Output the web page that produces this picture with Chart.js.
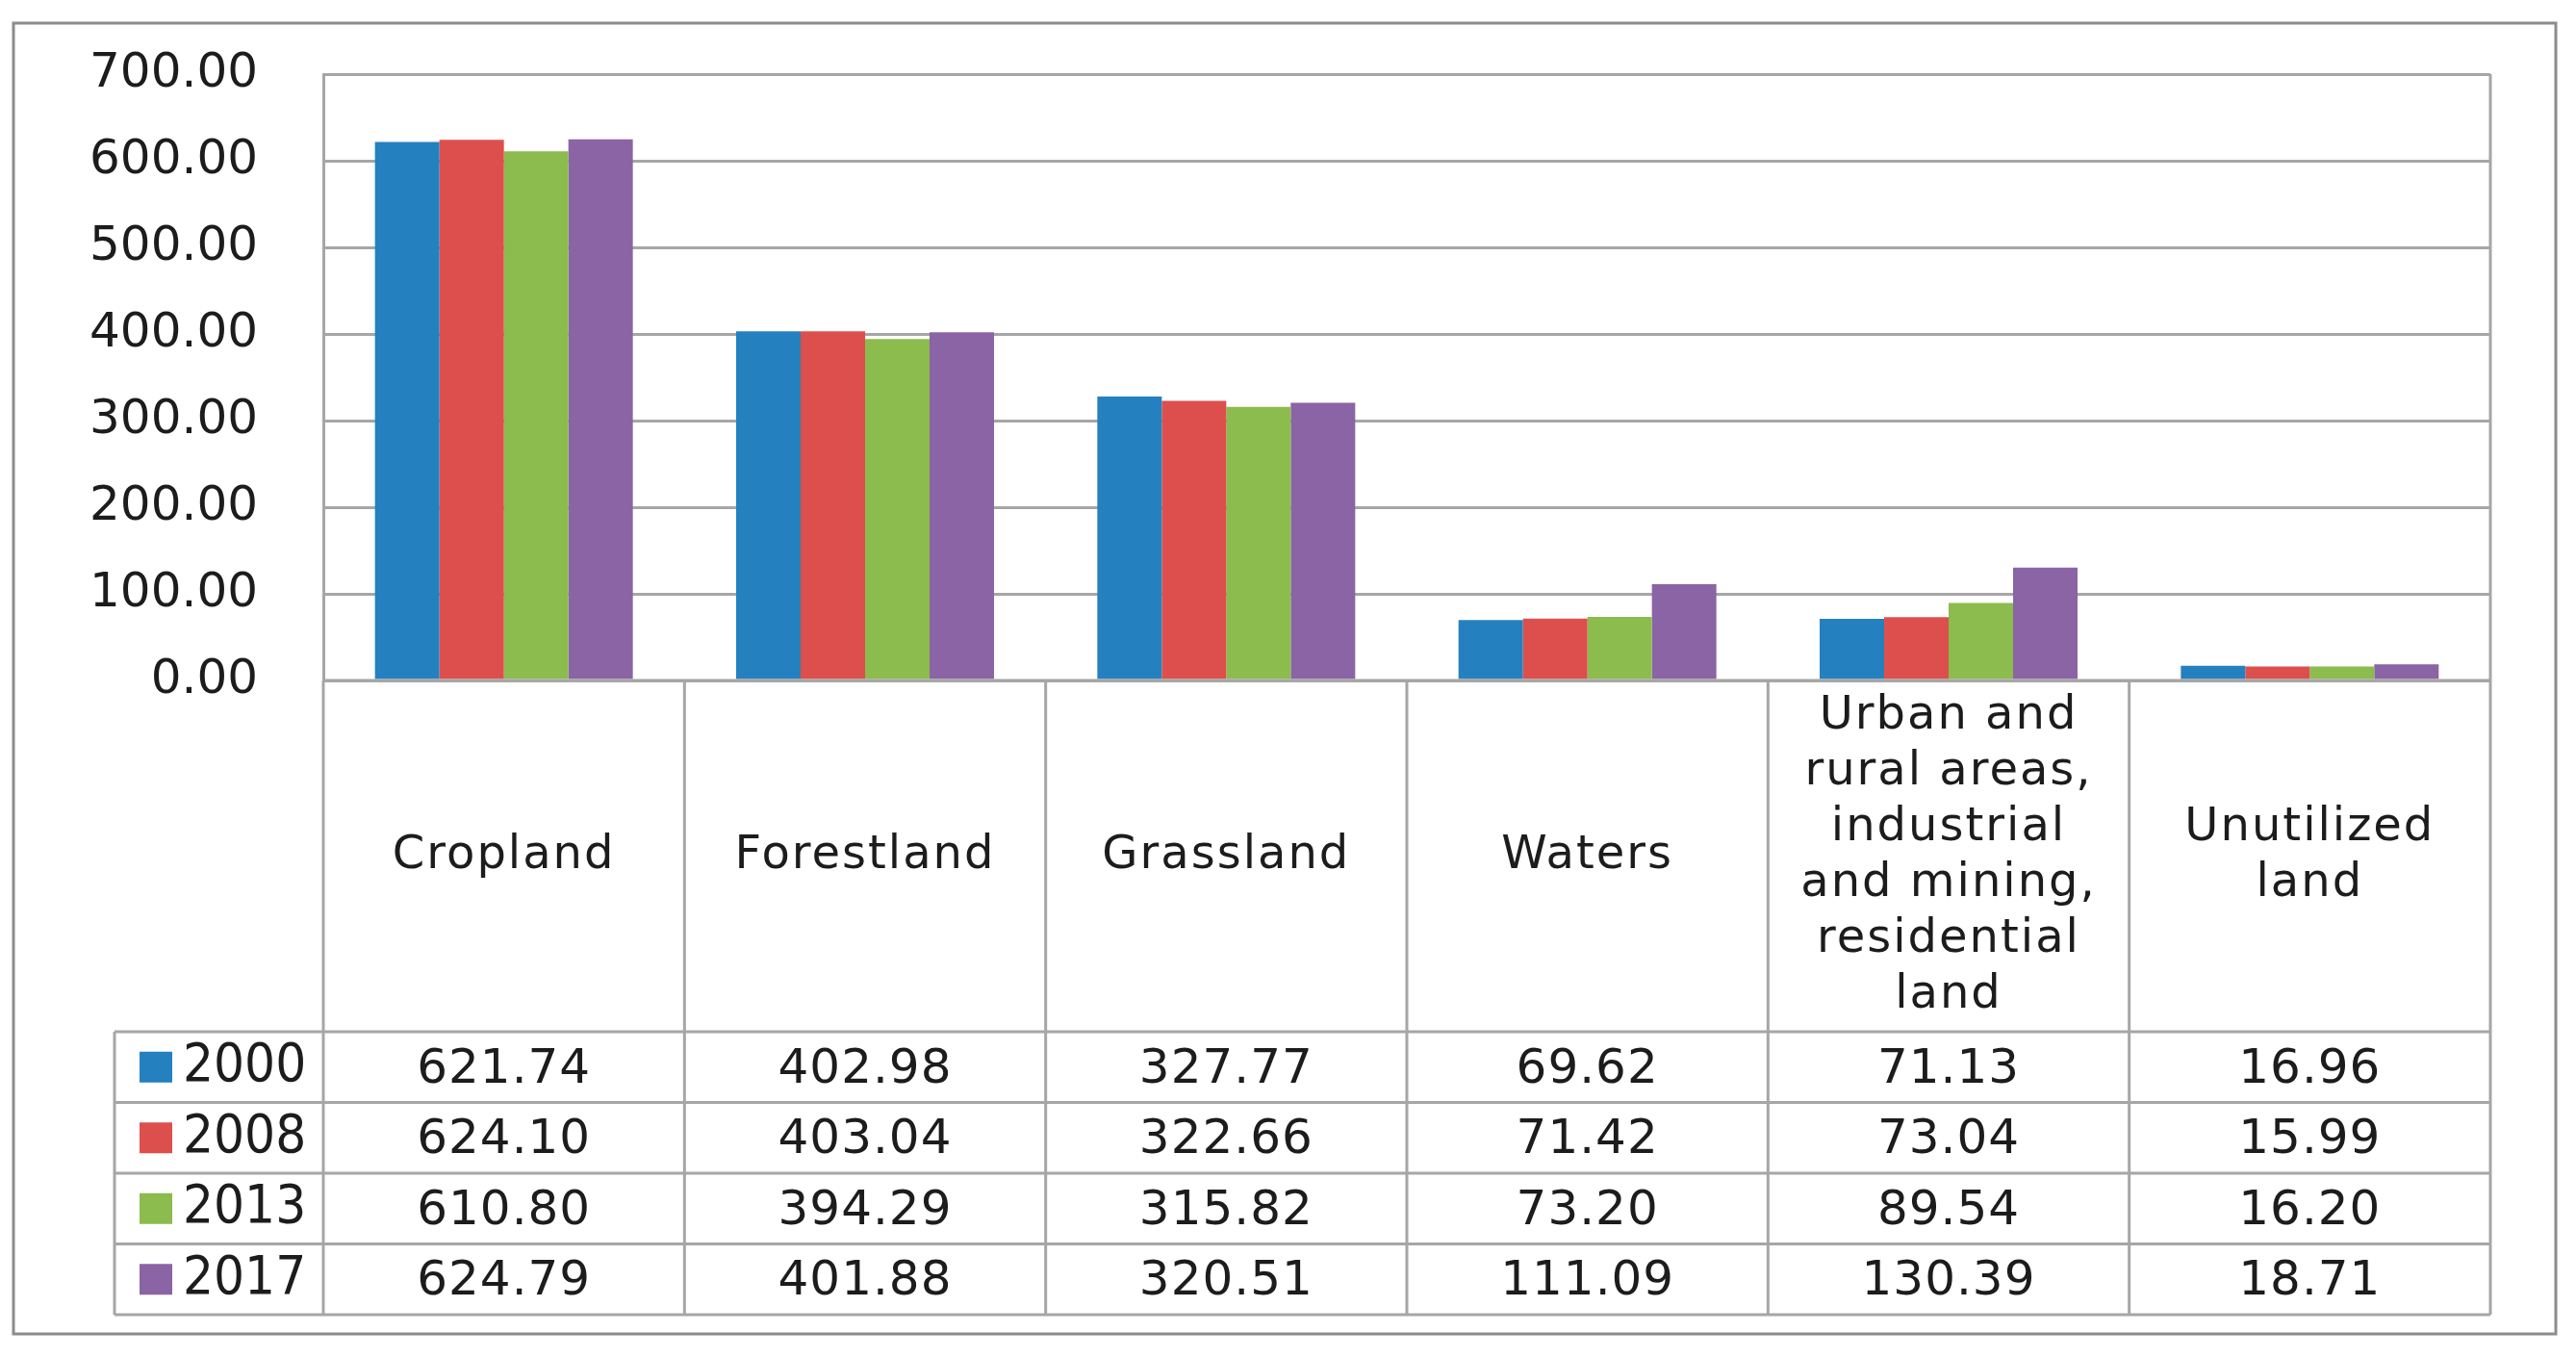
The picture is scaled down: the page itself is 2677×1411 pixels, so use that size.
<!DOCTYPE html>
<html>
<head>
<meta charset="utf-8">
<script src="https://cdn.jsdelivr.net/npm/chart.js@4/dist/chart.umd.min.js"></script>
<style>
  html, body { margin: 0; padding: 0; background: #fff; }
  #wrap { width: 2677px; height: 1411px; position: relative; }
</style>
</head>
<body>
<div id="wrap"><canvas id="landUseChart"></canvas></div>
<script>
// land use categories (multi-line labels as shown in the table header)
const categories = [
    ['Cropland'],
    ['Forestland'],
    ['Grassland'],
    ['Waters'],
    ['Urban and', 'rural areas,', 'industrial', 'and mining,', 'residential', 'land'],
    ['Unutilized', 'land']
];
const years = ['2000', '2008', '2013', '2017'];
const values2000 = [621.74, 402.98, 327.77, 69.62, 71.13, 16.96];
const values2008 = [624.10, 403.04, 322.66, 71.42, 73.04, 15.99];
const values2013 = [610.80, 394.29, 315.82, 73.20, 89.54, 16.20];
const values2017 = [624.79, 401.88, 320.51, 111.09, 130.39, 18.71];
const yMin = 0;
const yMax = 700;
const yStep = 100;

const seriesValues = [values2000, values2008, values2013, values2017];
const colors = ['#2580C0', '#DD4F4C', '#8CBB4E', '#8A64A5'];

const gridColor = '#A6A6A6';
const textColor = '#1C1C1C';
const mainFont = '"DejaVu Sans", Verdana, sans-serif';

// draws the data table under the plot, using the x scale for column edges
const dataTablePlugin = {
    id: 'dataTable',
    afterDraw(chart) {
        const ctx = chart.ctx;
        const area = chart.chartArea;
        const x = chart.scales.x;
        const colW = (area.right - area.left) / categories.length;
        const headerBottom = 1072;
        const rowH = 73.5;
        const tableLeft = 119;
        const tableBottom = headerBottom + rowH * years.length;

        ctx.save();
        ctx.strokeStyle = gridColor;
        ctx.lineWidth = 3;

        // right border of plot
        ctx.beginPath();
        ctx.moveTo(area.right, area.top);
        ctx.lineTo(area.right, area.bottom);
        ctx.stroke();

        // horizontal lines
        ctx.beginPath();
        ctx.moveTo(area.left, area.bottom);
        ctx.lineTo(area.right, area.bottom);
        for (let r = 0; r <= years.length; r++) {
            const yy = headerBottom + r * rowH;
            ctx.moveTo(tableLeft, yy);
            ctx.lineTo(area.right, yy);
        }
        // vertical lines
        for (let i = 0; i <= categories.length; i++) {
            const xx = area.left + i * colW;
            ctx.moveTo(xx, area.bottom);
            ctx.lineTo(xx, tableBottom);
        }
        ctx.moveTo(tableLeft, headerBottom);
        ctx.lineTo(tableLeft, tableBottom);
        ctx.stroke();

        // header labels
        ctx.fillStyle = textColor;
        ctx.textAlign = 'center';
        ctx.textBaseline = 'middle';
        ctx.letterSpacing = '2px';
        ctx.font = '48px ' + mainFont;
        const headerMid = (area.bottom + headerBottom) / 2;
        const lineH = 58;
        categories.forEach((lines, i) => {
            const cx = x.getPixelForValue(i);
            const start = headerMid - (lines.length - 1) * lineH / 2;
            lines.forEach((t, k) => ctx.fillText(t, cx, start + k * lineH));
        });

        // values
        ctx.letterSpacing = '1px';
        ctx.font = '50px ' + mainFont;
        seriesValues.forEach((vals, r) => {
            const cy = headerBottom + r * rowH + rowH / 2 + 3;
            vals.forEach((v, i) => {
                ctx.fillText(v.toFixed(2), x.getPixelForValue(i), cy);
            });
        });

        // legend keys
        ctx.textAlign = 'left';
        ctx.letterSpacing = '0px';
        ctx.font = '56px "DejaVu Sans Condensed", ' + mainFont;
        years.forEach((yr, r) => {
            const cy = headerBottom + r * rowH + rowH / 2;
            ctx.fillStyle = colors[r];
            ctx.fillRect(145, cy - 16, 34, 32);
            ctx.fillStyle = textColor;
            ctx.fillText(yr, 190, cy);
        });

        // outer frame
        ctx.strokeStyle = '#8C8C8C';
        ctx.lineWidth = 3;
        ctx.strokeRect(14, 24, 2642, 1362);
        ctx.restore();
    }
};

const ctx = document.getElementById('landUseChart').getContext('2d');
const landUseChart = new Chart(ctx, {
    type: 'bar',
    data: {
        labels: categories,
        datasets: years.map((yr, i) => ({
            label: yr,
            data: seriesValues[i],
            backgroundColor: colors[i],
            borderWidth: 0,
            barPercentage: 1.0,
            categoryPercentage: 0.714
        }))
    },
    options: {
        responsive: true,
        maintainAspectRatio: false,
        animation: false,
        devicePixelRatio: 1,
        layout: {
            padding: { top: 77, right: 89, bottom: 704, left: 0 }
        },
        plugins: {
            legend: { display: false },
            tooltip: { enabled: false }
        },
        scales: {
            x: {
                display: false
            },
            y: {
                min: yMin,
                max: yMax,
                afterFit: function (scale) {
                    scale.width = 336;
                    scale.paddingTop = 0;
                    scale.paddingBottom = 0;
                },
                ticks: {
                    stepSize: yStep,
                    padding: 68,
                    color: textColor,
                    font: { size: 50, family: mainFont },
                    callback: function (value) {
                        return value.toFixed(2);
                    }
                },
                grid: {
                    color: gridColor,
                    lineWidth: 3,
                    drawTicks: false
                },
                border: {
                    color: gridColor,
                    width: 3
                }
            }
        }
    },
    plugins: [dataTablePlugin]
});
</script>
</body>
</html>
